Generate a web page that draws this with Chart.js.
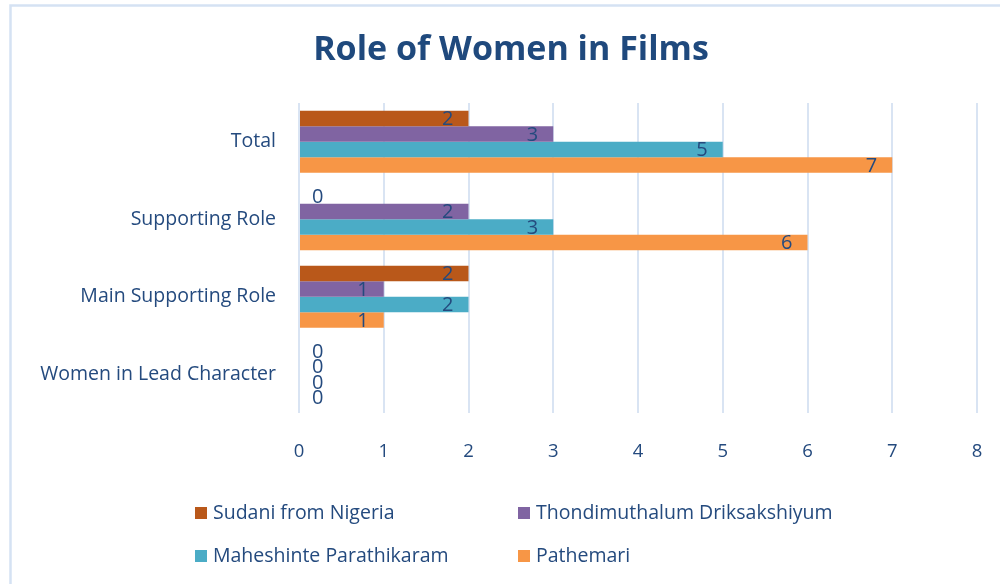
<!DOCTYPE html>
<html>
<head>
<meta charset="utf-8">
<script src="https://cdn.jsdelivr.net/npm/chart.js@4.4.1/dist/chart.umd.min.js"></script>
<style>
  html, body { margin: 0; padding: 0; background: #ffffff; }
  #wrap { position: relative; width: 1000px; height: 584px; }
</style>
</head>
<body>
<div id="wrap"><canvas id="c" width="1000" height="584"></canvas></div>
<script>
const chartTitle = "Role of Women in Films";
const categories = ["Total", "Supporting Role", "Main Supporting Role", "Women in Lead Character"];
const seriesNames = ["Sudani from Nigeria", "Thondimuthalum Driksakshiyum", "Maheshinte Parathikaram", "Pathemari"];
const sudani = [2, 0, 2, 0];
const thondi = [3, 2, 1, 0];
const mahesh = [5, 3, 2, 0];
const pathemari = [7, 6, 1, 0];
const xTicks = [0, 1, 2, 3, 4, 5, 6, 7, 8];
const colors = ["#b9581a", "#8064a2", "#4bacc6", "#f79646"];

const TEXT = "#244a7e";
const FONT = "'Open Sans', 'Noto Sans', sans-serif";

const framePlugin = {
  id: 'frame',
  beforeDraw(chart) {
    const ctx = chart.ctx;
    ctx.save();
    ctx.strokeStyle = "#d5e2f3";
    ctx.lineWidth = 2.5;
    ctx.strokeRect(10.5, 5.5, 1010, 600);
    ctx.restore();
  }
};

const titlePlugin = {
  id: 'customTitle',
  afterDraw(chart) {
    const ctx = chart.ctx;
    ctx.save();
    ctx.font = "bold 34px " + FONT;
    ctx.fillStyle = "#1f497d";
    ctx.textAlign = 'center';
    ctx.textBaseline = 'middle';
    ctx.fillText(chartTitle, 511, 50);
    ctx.restore();
  }
};

const labelPlugin = {
  id: 'valueLabels',
  afterDatasetsDraw(chart) {
    const ctx = chart.ctx;
    ctx.save();
    ctx.font = "20px " + FONT;
    ctx.fillStyle = TEXT;
    ctx.textBaseline = 'middle';
    chart.data.datasets.forEach((ds, i) => {
      const meta = chart.getDatasetMeta(i);
      meta.data.forEach((el, j) => {
        const v = ds.data[j];
        if (v > 0) {
          ctx.textAlign = 'right';
          ctx.fillText(String(v), el.x - 15, el.y + 1);
        } else {
          ctx.textAlign = 'left';
          ctx.fillText(String(v), el.base + 13, el.y + 1);
        }
      });
    });
    ctx.restore();
  }
};

const legendPlugin = {
  id: 'customLegend',
  afterDraw(chart) {
    const ctx = chart.ctx;
    ctx.save();
    ctx.font = "19.5px " + FONT;
    ctx.textBaseline = 'middle';
    ctx.textAlign = 'left';
    const cols = [195, 518];
    const rows = [513, 556];
    chart.data.datasets.forEach((ds, i) => {
      const x = cols[i % 2];
      const y = rows[Math.floor(i / 2)];
      ctx.fillStyle = ds.backgroundColor;
      ctx.fillRect(x, y - 6, 12, 12);
      ctx.fillStyle = TEXT;
      ctx.fillText(ds.label, x + 18, y);
    });
    ctx.restore();
  }
};

const seriesValues = [sudani, thondi, mahesh, pathemari];

new Chart(document.getElementById('c'), {
  type: 'bar',
  data: {
    labels: categories,
    datasets: seriesNames.map((name, i) => ({
      label: name,
      data: seriesValues[i],
      backgroundColor: colors[i],
      borderWidth: 0,
      barPercentage: 1.0,
      categoryPercentage: 0.8
    }))
  },
  options: {
    indexAxis: 'y',
    responsive: false,
    animation: false,
    events: [],
    layout: { padding: { left: 20, right: 23, top: 103, bottom: 0 } },
    plugins: {
      legend: { display: false },
      tooltip: { enabled: false },
      title: { display: false }
    },
    scales: {
      x: {
        min: 0,
        max: 8,
        afterBuildTicks(scale) { scale.ticks = xTicks.map(v => ({ value: v })); },
        afterFit(scale) { scale.height = 171; },
        grid: { color: "#d9e4f3", lineWidth: 2, drawTicks: true, tickLength: 25, tickColor: "rgba(0,0,0,0)" },
        border: { display: false },
        ticks: { color: TEXT, font: { family: FONT, size: 18.5 }, padding: 3, maxRotation: 0 }
      },
      y: {
        afterFit(scale) { scale.width = 279; },
        grid: { display: false, drawTicks: false },
        border: { display: false },
        ticks: { color: TEXT, font: { family: FONT, size: 19.5 }, padding: 23 }
      }
    }
  },
  plugins: [framePlugin, labelPlugin, legendPlugin, titlePlugin]
});
</script>
</body>
</html>
